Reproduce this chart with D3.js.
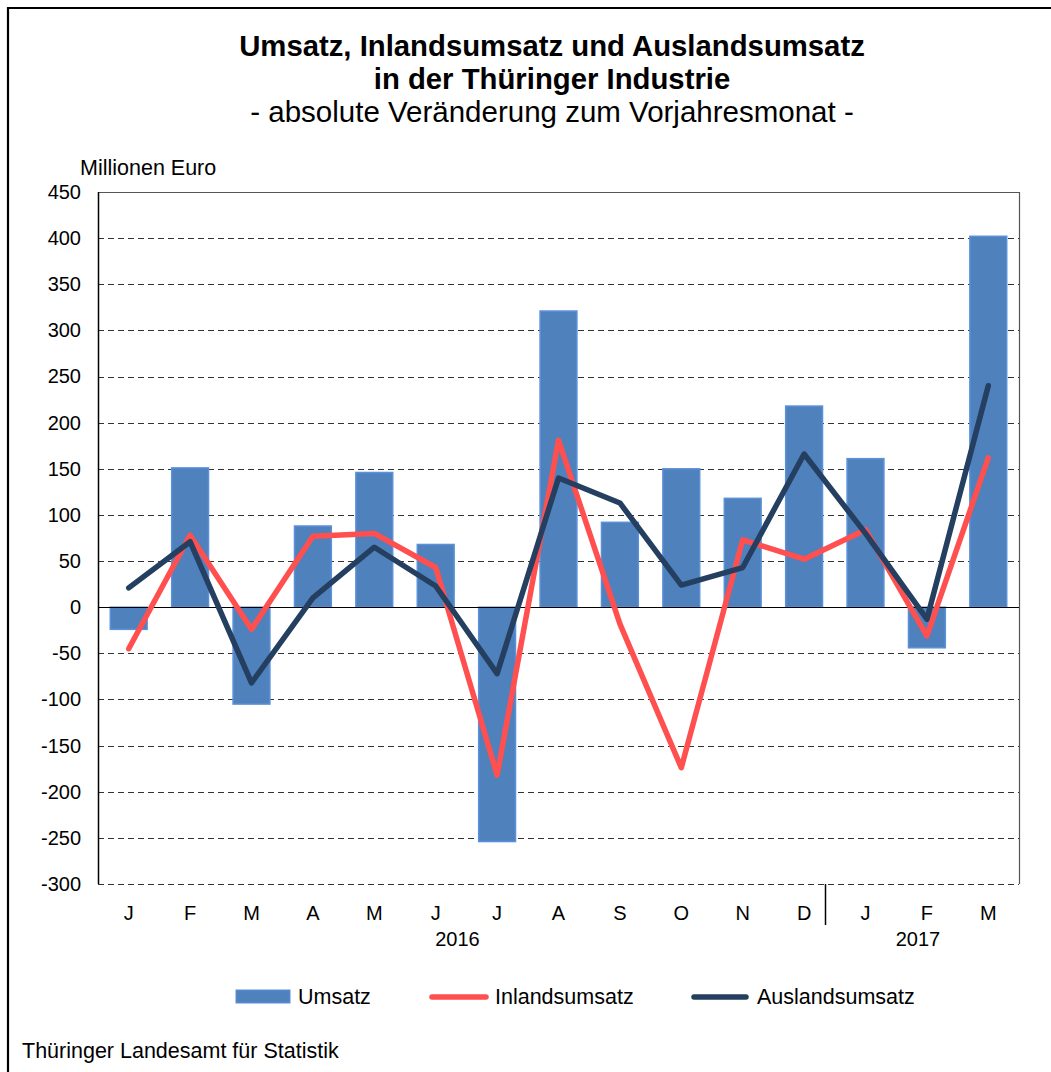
<!DOCTYPE html>
<html><head><meta charset="utf-8">
<script src="https://cdn.jsdelivr.net/npm/d3@7"></script>
<style>body{margin:0;background:#fff}svg{display:block;font-family:"Liberation Sans",Arial,sans-serif}</style>
</head><body>
<svg id="c" width="1051" height="1072"></svg>
<script>
const months = ["J","F","M","A","M","J","J","A","S","O","N","D","J","F","M"];
const umsatz = [-24,151,-105,88,146,68,-254,321,92,150,118,218,161,-44,402];
const inland = [-45,78,-24,77,80,43,-182,181,-18,-174,73,52,84,-31,162];
const ausland = [21,71,-82,10,65,23,-72,140,113,24,43,166,80,-13,240];
const yTicks = [450,400,350,300,250,200,150,100,50,0,-50,-100,-150,-200,-250,-300];
const years = [{label:"2016", from:0, to:11},{label:"2017", from:12, to:14}];

const svg = d3.select("#c");
const L=98, R=1019, T=192, B=884;
const FS = 21.5, TFS = 20;
const idx = d3.range(months.length);
const x = d3.scaleBand().domain(idx).range([L,R]).paddingInner(0.4).paddingOuter(0.2);
const xc = i => x(i)+x.bandwidth()/2;
const y = d3.scaleLinear().domain([-300,450]).range([B,T]);

// frame
svg.append("path").attr("d",`M8,1075 V8 H1055`).attr("fill","none").attr("stroke","#000").attr("stroke-width",2.2);

// titles
svg.append("text").attr("x",552).attr("y",56).attr("text-anchor","middle").attr("font-size",29.3).attr("font-weight","bold").text("Umsatz, Inlandsumsatz und Auslandsumsatz");
svg.append("text").attr("x",552).attr("y",89).attr("text-anchor","middle").attr("font-size",29.3).attr("font-weight","bold").text("in der Thüringer Industrie");
svg.append("text").attr("x",552).attr("y",122).attr("text-anchor","middle").attr("font-size",29.5).text("- absolute Veränderung zum Vorjahresmonat -");
svg.append("text").attr("x",80).attr("y",175).attr("font-size",FS).text("Millionen Euro");

// grid
const g = svg.append("g");
yTicks.forEach(v=>{
  if(v===0) return;
  g.append("line").attr("x1",L).attr("x2",R).attr("y1",Math.round(y(v))+0.5).attr("y2",Math.round(y(v))+0.5)
   .attr("stroke", v===450 ? "#555" : "#333").attr("stroke-width",1.2).attr("stroke-dasharray", v===450?null:"6,4");
});
// y axis
const yAxis = d3.axisLeft(y).tickValues(yTicks).tickFormat(d=>String(d)).tickSize(0).tickPadding(17);
const ya = svg.append("g").attr("transform",`translate(${L},0)`).call(yAxis);
ya.select(".domain").remove();
ya.selectAll("text").attr("font-size",TFS).attr("fill","#000").attr("font-family","Liberation Sans, Arial, sans-serif");
svg.append("line").attr("x1",L+0.5).attr("x2",L+0.5).attr("y1",T).attr("y2",B).attr("stroke","#000").attr("stroke-width",1.5);
svg.append("line").attr("x1",R+0.5).attr("x2",R+0.5).attr("y1",T).attr("y2",B).attr("stroke","#555").attr("stroke-width",1.2);

// bars
svg.append("g").selectAll("rect").data(umsatz).join("rect")
  .attr("x",(d,i)=>x(i)).attr("width",x.bandwidth())
  .attr("y",d=>y(Math.max(0,d))).attr("height",d=>Math.abs(y(d)-y(0)))
  .attr("fill","#4F81BD").attr("stroke","#5B91D9").attr("stroke-width",1.5);

// zero line
svg.append("line").attr("x1",L).attr("x2",R).attr("y1",Math.round(y(0))+0.5).attr("y2",Math.round(y(0))+0.5).attr("stroke","#000").attr("stroke-width",1);

// lines
const line = d3.line().x((d,i)=>xc(i)).y(d=>y(d));
svg.append("path").datum(inland).attr("d",line).attr("fill","none").attr("stroke","#FF4F4F").attr("stroke-width",5.5).attr("stroke-linejoin","round").attr("stroke-linecap","round");
svg.append("path").datum(ausland).attr("d",line).attr("fill","none").attr("stroke","#243F60").attr("stroke-width",5.5).attr("stroke-linejoin","round").attr("stroke-linecap","round");

// x axis labels
const xAxis = d3.axisBottom(x).tickFormat(i=>months[i]).tickSize(0).tickPadding(22);
const xa = svg.append("g").attr("transform",`translate(0,${B})`).call(xAxis);
xa.select(".domain").remove();
xa.selectAll("text").attr("font-size",TFS).attr("fill","#000").attr("font-family","Liberation Sans, Arial, sans-serif");
// year separator
const sepX = Math.round((xc(11)+xc(12))/2 - 10)+0.5;
svg.append("line").attr("x1",sepX).attr("x2",sepX).attr("y1",B).attr("y2",925).attr("stroke","#000").attr("stroke-width",1.5);
years.forEach(yr=>{
  svg.append("text").attr("x",(xc(yr.from)+xc(yr.to))/2-9).attr("y",946).attr("text-anchor","middle").attr("font-size",TFS).text(yr.label);
});

// legend
const lg = svg.append("g");
lg.append("rect").attr("x",236).attr("y",990).attr("width",54).attr("height",13).attr("fill","#4F81BD").attr("stroke","#5B91D9").attr("stroke-width",1);
lg.append("text").attr("x",298).attr("y",1004).attr("font-size",FS).text("Umsatz");
lg.append("line").attr("x1",432).attr("x2",486).attr("y1",997).attr("y2",997).attr("stroke","#FF4F4F").attr("stroke-width",5.5).attr("stroke-linecap","round");
lg.append("text").attr("x",495).attr("y",1004).attr("font-size",FS).text("Inlandsumsatz");
lg.append("line").attr("x1",694).attr("x2",746).attr("y1",997).attr("y2",997).attr("stroke","#243F60").attr("stroke-width",5.5).attr("stroke-linecap","round");
lg.append("text").attr("x",757).attr("y",1004).attr("font-size",FS).text("Auslandsumsatz");

svg.append("text").attr("x",22).attr("y",1058).attr("font-size",FS).text("Thüringer Landesamt für Statistik");
</script>
</body></html>
